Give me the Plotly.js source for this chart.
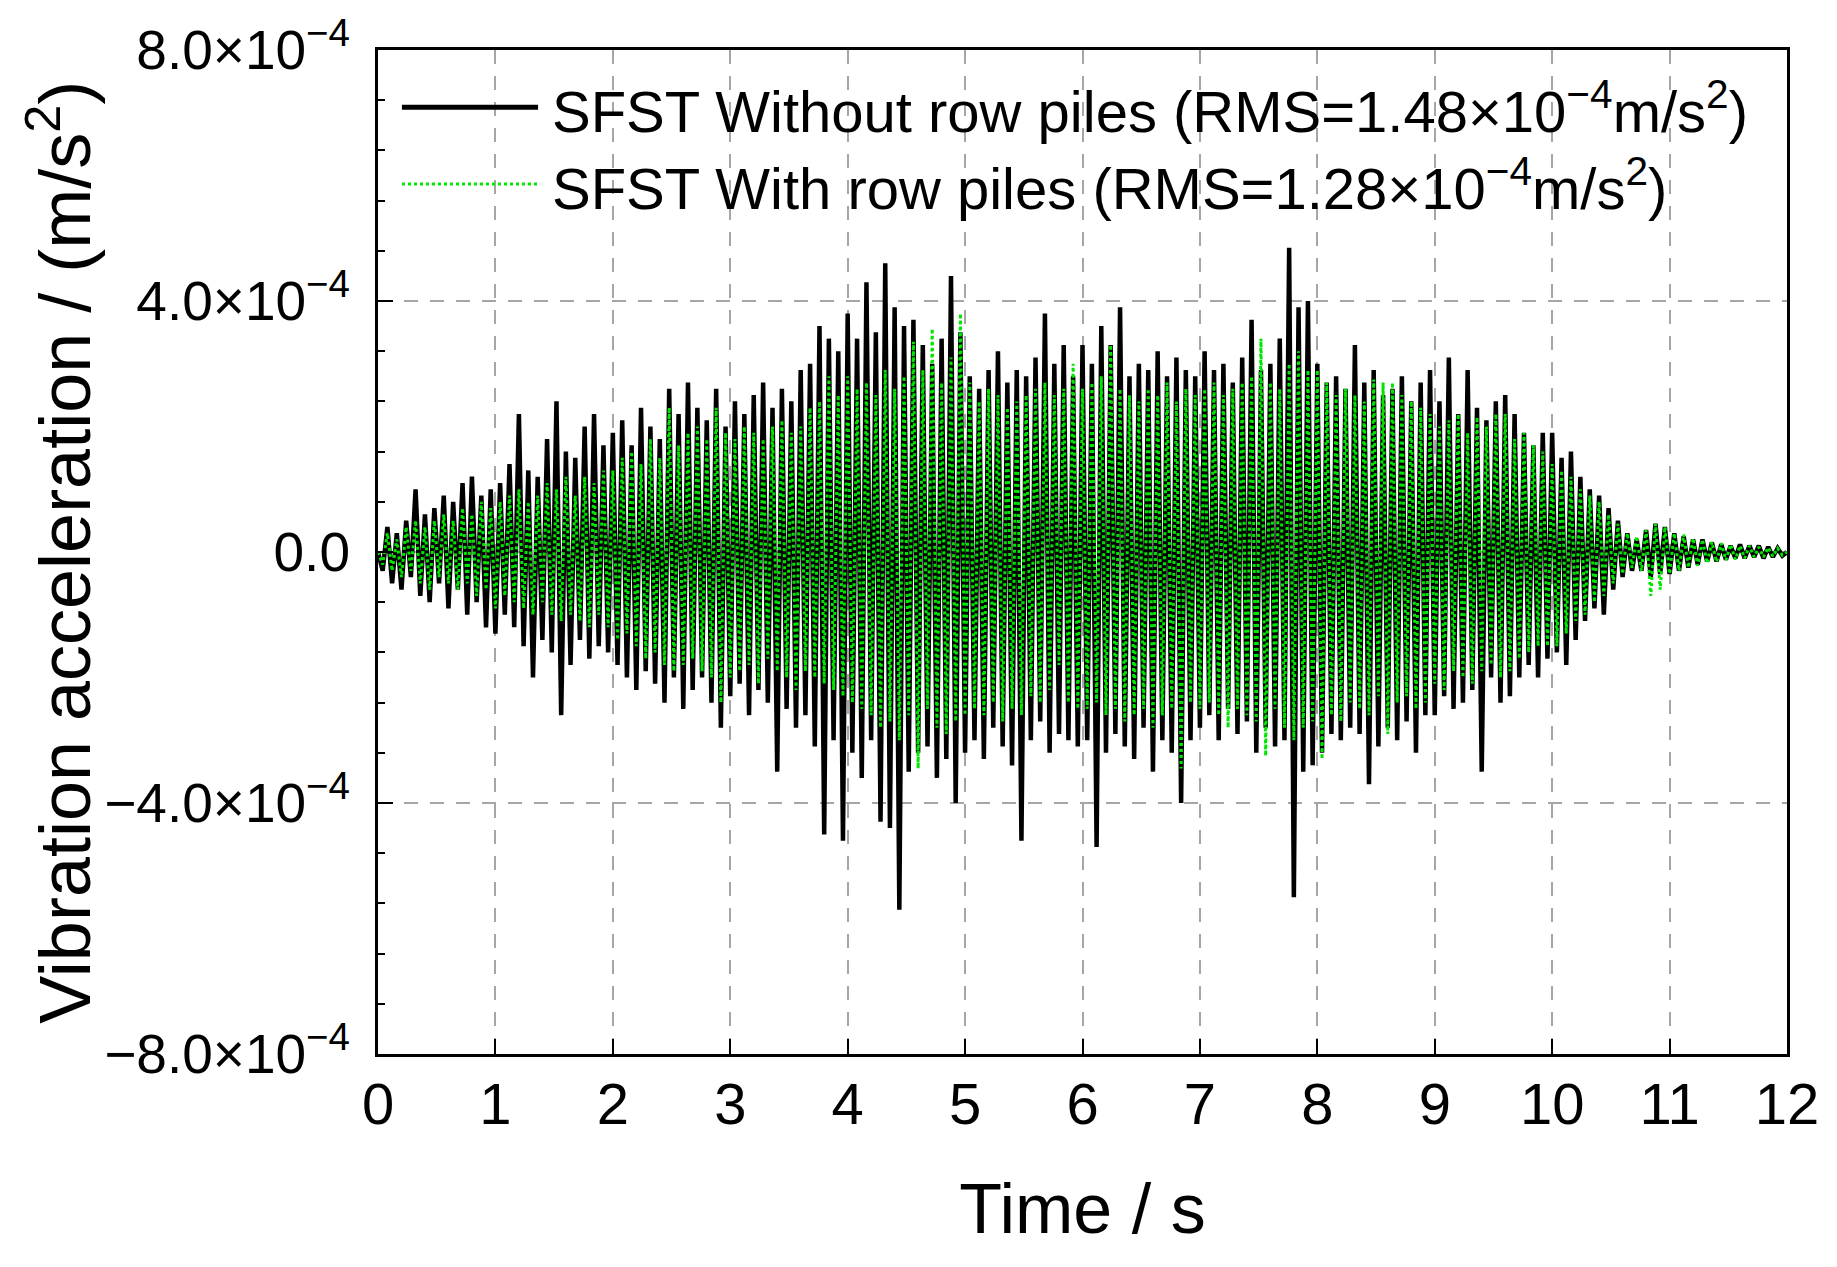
<!DOCTYPE html>
<html>
<head>
<meta charset="utf-8">
<script src="https://cdn.plot.ly/plotly-3.0.1.min.js"></script>
<style>
  html, body { margin: 0; padding: 0; background: #fff; }
  #myDiv { width: 1837px; height: 1267px; }
</style>
</head>
<body>
<div id="myDiv"></div>
<script>
// sample step of the records (s)
let passo = 0.04;

// acceleration, in units of 1e-4 m/s^2, one row per second
let sem_estacas = [
  0.0, -0.3, 0.4, -0.5, 0.3, -0.6, 0.5, -0.4, 1.0, -0.7, 0.6, -0.8, 0.7, -0.5, 0.9, -0.9, 0.8, -0.6, 1.1, -1.0, 1.2, -0.8, 0.9, -1.2, 1.0,
  -1.3, 1.1, -1.0, 1.4, -1.2, 2.2, -1.5, 1.3, -2.0, 1.2, -1.4, 1.8, -1.6, 2.4, -2.6, 1.6, -1.8, 1.5, -1.4, 2.0, -1.7, 2.2, -1.5, 1.7, -1.6,
  1.9, -1.8, 2.1, -2.0, 1.7, -2.2, 2.3, -1.9, 2.0, -2.1, 1.8, -2.4, 2.6, -2.0, 2.2, -2.5, 2.7, -2.2, 2.3, -2.0, 2.1, -2.4, 2.6, -2.8, 2.0,
  -2.3, 2.4, -2.1, 2.2, -2.6, 2.5, -2.2, 2.7, -2.4, 2.3, -3.5, 2.6, -2.5, 2.4, -2.8, 2.9, -2.6, 3.0, -3.1, 3.6, -4.5, 3.4, -3.0, 3.2, -4.6,
  3.8, -3.2, 3.4, -3.6, 4.3, -3.0, 3.5, -4.3, 4.6, -4.4, 3.9, -5.7, 3.6, -3.5, 3.7, -3.2, 3.3, -3.1, 3.0, -3.6, 3.4, -3.3, 4.4, -4.0, 3.5,
  -3.2, 2.8, -3.0, 2.6, -3.3, 2.9, -2.8, 3.2, -3.1, 2.7, -3.4, 2.9, -4.6, 2.8, -3.0, 3.1, -2.7, 3.8, -3.2, 3.0, -2.9, 3.3, -3.0, 2.8, -3.1,
  3.3, -3.0, 3.0, -4.7, 3.6, -3.2, 3.3, -2.9, 3.9, -3.1, 2.8, -3.3, 3.0, -2.8, 2.9, -3.5, 3.2, -3.0, 2.8, -3.2, 3.1, -4.0, 2.9, -3.0, 2.8,
  -2.8, 3.2, -2.6, 2.9, -3.0, 3.0, -2.5, 2.7, -2.9, 3.1, -2.7, 3.7, -3.2, 2.9, -2.8, 3.0, -3.1, 3.4, -3.0, 4.85, -5.5, 3.9, -3.5, 4.0, -3.4,
  3.0, -3.2, 2.7, -2.9, 2.8, -3.0, 2.6, -2.8, 3.3, -2.9, 2.7, -3.7, 2.9, -3.1, 2.5, -2.8, 2.6, -3.0, 2.8, -2.7, 2.4, -3.2, 2.7, -2.6, 2.9,
  -2.6, 2.4, -2.3, 3.1, -2.5, 2.2, -2.4, 2.9, -2.2, 2.3, -3.5, 2.1, -2.0, 2.4, -2.4, 2.5, -2.3, 2.2, -2.0, 1.9, -1.8, 1.7, -2.0, 1.9, -1.7,
  1.9, -1.6, 1.5, -1.8, 1.6, -1.4, 1.2, -1.1, 1.0, -0.9, 0.9, -1.0, 0.7, -0.6, 0.5, -0.4, 0.3, -0.3, 0.2, -0.3, 0.35, -0.4, 0.45, -0.35, 0.4,
  -0.35, 0.3, -0.3, 0.25, -0.25, 0.2, -0.2, 0.2, -0.15, 0.15, -0.15, 0.12, -0.12, 0.1, -0.1, 0.12, -0.1, 0.1, -0.08, 0.1, -0.1, 0.08, -0.08, 0.06, -0.06,
  0.0
];

let com_estacas = [
  0.0, -0.2, 0.3, -0.3, 0.2, -0.4, 0.4, -0.3, 0.5, -0.5, 0.4, -0.6, 0.5, -0.4, 0.6, -0.5, 0.5, -0.6, 0.7, -0.5, 0.6, -0.7, 0.8, -0.6, 0.7,
  -0.9, 0.8, -0.7, 0.9, -0.8, 1.0, -0.9, 0.8, -1.0, 0.9, -0.8, 1.1, -1.0, 1.0, -1.1, 1.2, -1.0, 0.9, -1.1, 1.2, -1.2, 1.1, -1.0, 1.3, -1.2,
  1.3, -1.4, 1.5, -1.3, 1.6, -1.5, 1.4, -1.7, 1.8, -1.6, 1.5, -1.8, 2.3, -1.9, 1.7, -1.8, 1.9, -1.7, 2.0, -1.9, 1.8, -2.0, 2.3, -2.4, 1.9,
  -2.0, 1.8, -1.9, 2.0, -1.8, 1.9, -2.1, 1.8, -1.7, 2.0, -1.9, 2.1, -2.0, 1.9, -2.2, 2.0, -1.9, 2.3, -2.0, 2.4, -2.1, 2.8, -2.2, 2.5, -2.3,
  2.8, -2.4, 2.6, -2.5, 2.7, -2.6, 2.5, -2.8, 2.9, -2.7, 2.6, -3.0, 2.8, -2.6, 3.35, -3.45, 2.9, -2.5, 3.56, -2.8, 2.7, -2.9, 3.1, -2.7, 3.8,
  -2.6, 2.7, -2.5, 2.4, -2.6, 2.6, -2.4, 2.5, -2.7, 2.3, -2.5, 2.4, -2.6, 2.5, -2.3, 2.6, -2.4, 2.7, -2.2, 2.5, -1.8, 2.6, -2.4, 3.0, -2.5,
  2.6, -2.5, 2.7, -2.4, 2.8, -2.6, 3.3, -2.5, 2.6, -2.7, 2.5, -2.6, 2.4, -2.5, 2.6, -2.8, 2.5, -2.6, 2.7, -2.5, 2.4, -3.45, 2.6, -2.4, 2.5,
  -2.5, 2.6, -2.4, 2.7, -2.6, 2.5, -2.8, 2.6, -2.5, 2.7, -2.6, 2.8, -2.7, 3.4, -3.25, 2.7, -2.5, 2.6, -2.8, 3.0, -3.0, 3.2, -2.8, 2.9, -2.7,
  2.9, -3.3, 2.7, -2.6, 2.5, -2.7, 2.6, -2.4, 2.5, -2.5, 2.4, -2.6, 2.75, -2.3, 2.7, -2.9, 2.7, -2.4, 2.5, -2.3, 2.4, -2.5, 2.3, -2.4, 2.2,
  -2.1, 2.0, -2.2, 2.1, -1.9, 2.2, -2.0, 1.9, -2.1, 2.15, -1.9, 2.0, -1.8, 2.2, -2.0, 2.2, -1.9, 1.8, -1.7, 1.9, -1.6, 1.7, -1.5, 1.6, -1.5,
  1.4, -1.5, 1.3, -1.3, 1.2, -1.1, 1.0, -1.0, 0.9, -0.8, 0.8, -0.7, 0.6, -0.5, 0.45, -0.35, 0.3, -0.25, 0.25, -0.3, 0.35, -0.7, 0.45, -0.6, 0.4,
  -0.35, 0.3, -0.3, 0.28, -0.25, 0.22, -0.22, 0.2, -0.18, 0.16, -0.16, 0.14, -0.13, 0.12, -0.12, 0.1, -0.1, 0.1, -0.08, 0.08, -0.08, 0.07, -0.07, 0.06, -0.05,
  0.0
];

let tick_y_valores = [-8, -4, 0, 4, 8];
let tick_y_textos = ["\u22128.0\u00d710<sup>\u22124</sup>", "\u22124.0\u00d710<sup>\u22124</sup>", "0.0",
                     "4.0\u00d710<sup>\u22124</sup>", "8.0\u00d710<sup>\u22124</sup>"];

let nome_sem = "SFST Without row piles (RMS=1.48\u00d710<sup>\u22124</sup>m/s<sup>2</sup>)";
let nome_com = "SFST With row piles (RMS=1.28\u00d710<sup>\u22124</sup>m/s<sup>2</sup>)";
let titulo_y = "Vibration acceleration / (m/s<sup>2</sup>)";

let fonte = "Liberation Sans, Arial, sans-serif";
let verde = "#00e600";

function tempos(serie) {
  return serie.map((v, i) => Math.round(i * passo * 100) / 100);
}

function desenhaAceleracao(div_id) {
  let trace1 = {
    x: tempos(sem_estacas),
    y: sem_estacas,
    name: nome_sem,
    type: 'scatter',
    mode: 'lines',
    line: {color: '#000000', width: 4.5},
    showlegend: false
  };

  let trace2 = {
    x: tempos(com_estacas),
    y: com_estacas,
    name: nome_com,
    type: 'scatter',
    mode: 'lines',
    line: {color: verde, width: 3, dash: 'dot'},
    showlegend: false
  };

  // legend drawn by hand so the sample lines can be as long as in the original
  let legenda_linhas = [
    {type: 'line', xref: 'paper', yref: 'paper', x0: 0.017, x1: 0.1136, y0: 0.943, y1: 0.943,
     line: {color: '#000000', width: 5}},
    {type: 'line', xref: 'paper', yref: 'paper', x0: 0.017, x1: 0.1136, y0: 0.8665, y1: 0.8665,
     line: {color: verde, width: 3, dash: 'dot'}}
  ];

  let legenda_textos = [
    {xref: 'paper', yref: 'paper', x: 0.1221, y: 0.943, xanchor: 'left', yanchor: 'middle',
     text: nome_sem, showarrow: false, font: {family: fonte, size: 58, color: '#000'}},
    {xref: 'paper', yref: 'paper', x: 0.1221, y: 0.8665, xanchor: 'left', yanchor: 'middle',
     text: nome_com, showarrow: false, font: {family: fonte, size: 58, color: '#000'}},
    // y axis title as an annotation so it can sit closer to the tick labels
    {xref: 'paper', yref: 'paper', x: -0.2265, y: 0.5, xanchor: 'center', yanchor: 'middle',
     textangle: -90, text: titulo_y, showarrow: false,
     font: {family: fonte, size: 72, color: '#000'}}
  ];

  let layout = {
    width: 1837,
    height: 1267,
    margin: {l: 378, r: 50, t: 50, b: 213},
    paper_bgcolor: '#ffffff',
    plot_bgcolor: '#ffffff',
    font: {family: fonte, color: '#000'},
    showlegend: false,
    xaxis: {
      range: [0, 12],
      tickmode: 'linear',
      tick0: 0,
      dtick: 1,
      ticks: 'inside',
      ticklen: 15,
      tickwidth: 2,
      tickcolor: '#000',
      tickfont: {family: fonte, size: 58, color: '#000'},
      ticklabelstandoff: -3,
      showline: true,
      linecolor: '#000',
      linewidth: 3,
      mirror: true,
      showgrid: true,
      gridcolor: '#a6a6a6',
      gridwidth: 2,
      griddash: '14px,12px',
      zeroline: false,
      title: {text: 'Time / s', font: {family: fonte, size: 70, color: '#000'}, standoff: 50}
    },
    yaxis: {
      range: [-8, 8],
      tickmode: 'array',
      tickvals: tick_y_valores,
      ticktext: tick_y_textos,
      ticks: 'inside',
      ticklen: 15,
      tickwidth: 2,
      tickcolor: '#000',
      tickfont: {family: fonte, size: 55, color: '#000'},
      ticklabelstandoff: 14,
      minor: {tickmode: 'linear', tick0: -8, dtick: 0.8, ticks: 'inside', ticklen: 7,
              tickwidth: 2, tickcolor: '#000', showgrid: false},
      showline: true,
      linecolor: '#000',
      linewidth: 3,
      mirror: true,
      showgrid: true,
      gridcolor: '#a6a6a6',
      gridwidth: 2,
      griddash: '14px,12px',
      zeroline: false
    },
    shapes: legenda_linhas,
    annotations: legenda_textos
  };

  Plotly.newPlot(div_id, [trace1, trace2], layout, {displayModeBar: false, staticPlot: true});
}

(function() {
  setTimeout(function() { desenhaAceleracao('myDiv'); }, 0);
})();
</script>
</body>
</html>
